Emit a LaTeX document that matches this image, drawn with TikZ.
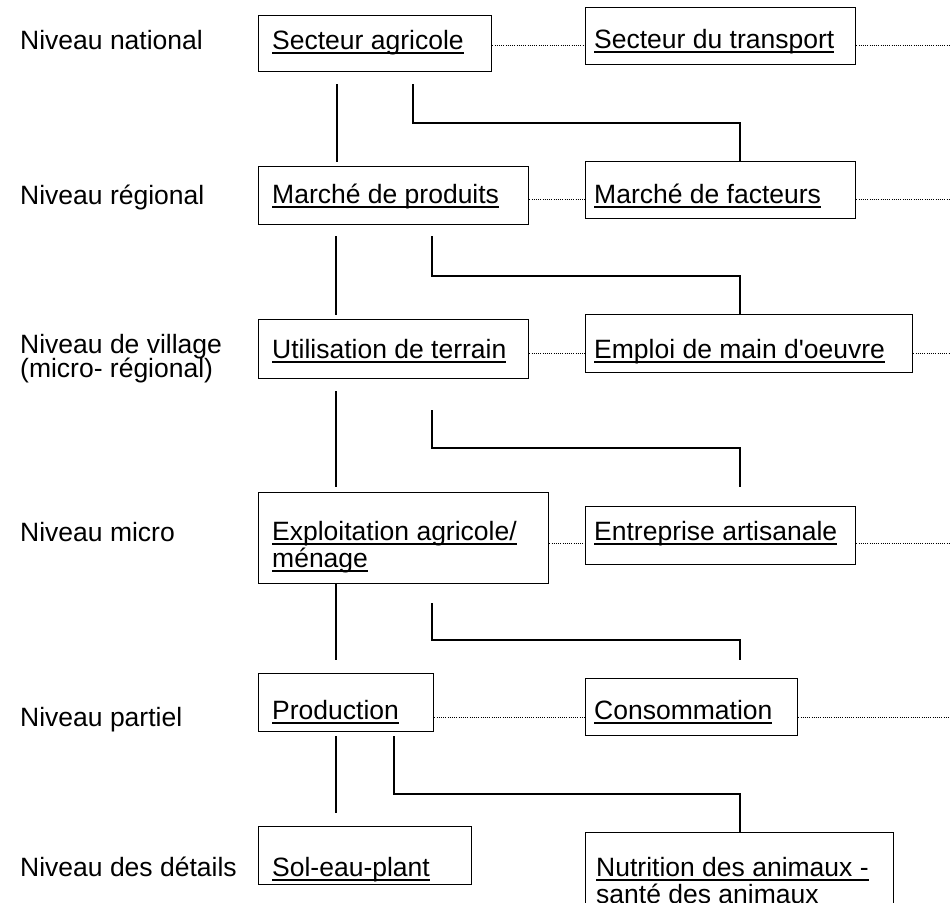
\documentclass[tikz,border=0pt]{standalone}
\usepackage{fontspec}
\setmainfont{Liberation Sans}[Ligatures=TeXOff]
\usetikzlibrary{calc}

% underlined text with a rule set at a fixed depth below the baseline
\newcommand\ulx[1]{\setbox0\hbox{#1}\rlap{\rule[-5pt]{\wd0}{1.8pt}}\box0}

\begin{document}
\begin{tikzpicture}[x=1pt,y=-1pt,
  box/.style={draw, line width=1.3pt, anchor=north west, inner sep=0pt},
  txt/.style={anchor=base west, inner sep=0pt, font=\fontsize{26.5}{28}\selectfont},
  link/.style={line width=1.3pt},
  dots/.style={line width=0.9pt, dash pattern=on 1pt off 1.2pt}]

\useasboundingbox (0,0) rectangle (950,902);
\fill[white] (0,0) rectangle (950,902);

% level labels
\node[txt] (l1)  at (20,49)  {Niveau national};
\node[txt] (l2)  at (20,204) {Niveau régional};
\node[txt] (l3a) at (20,353) {Niveau de village};
\node[txt] (l3b) at (20,377) {(micro- régional)};
\node[txt] (l4)  at (20,541) {Niveau micro};
\node[txt] (l5)  at (20,726) {Niveau partiel};
\node[txt] (l6)  at (20,876) {Niveau des détails};

% boxes
\node[box, minimum width=233pt, minimum height=56pt] (agri)   at (258,15)  {};
\node[box, minimum width=270pt, minimum height=57pt] (trans)  at (585,7)   {};
\node[box, minimum width=270pt, minimum height=58pt] (prod)   at (258,166) {};
\node[box, minimum width=270pt, minimum height=57pt] (fact)   at (585,161) {};
\node[box, minimum width=270pt, minimum height=59pt] (util)   at (258,319) {};
\node[box, minimum width=327pt, minimum height=58pt] (emploi) at (585,314) {};
\node[box, minimum width=290pt, minimum height=91pt] (exploi) at (258,492) {};
\node[box, minimum width=270pt, minimum height=58pt] (entr)   at (585,506) {};
\node[box, minimum width=175pt, minimum height=58pt] (produc) at (258,673) {};
\node[box, minimum width=212pt, minimum height=57pt] (conso)  at (585,678) {};
\node[box, minimum width=213pt, minimum height=58pt] (sol)    at (258,826) {};
\node[box, minimum width=308pt, minimum height=100pt] (nutri) at (585,832) {};

% box texts
\node[txt] (agriT)   at (272,49)  {\ulx{Secteur agricole}};
\node[txt] (transT)  at (594,48)  {\ulx{Secteur du transport}};
\node[txt] (prodT)   at (272,203) {\ulx{Marché de produits}};
\node[txt] (factT)   at (594,203) {\ulx{Marché de facteurs}};
\node[txt] (utilT)   at (272,358) {\ulx{Utilisation de terrain}};
\node[txt] (emploiT) at (594,358) {\ulx{Emploi de main d'oeuvre}};
\node[txt] (exploiT) at (272,540) {\ulx{Exploitation agricole/}};
\node[txt] (exploiU) at (272,567) {\ulx{ménage}};
\node[txt] (entrT)   at (594,540) {\ulx{Entreprise artisanale}};
\node[txt] (producT) at (272,719) {\ulx{Production}};
\node[txt] (consoT)  at (594,719) {\ulx{Consommation}};
\node[txt] (solT)    at (272,876) {\ulx{Sol-eau-plant}};
\node[txt] (nutriT)  at (596,876) {\ulx{Nutrition des animaux -}};
\node[txt] (nutriU)  at (596,903) {\ulx{santé des animaux}};

% right-hand edge of the dotted links
\coordinate (edge) at (950,0);

% dotted links along each level
\draw[dots] (agri.east |- 0,45)   -- (trans.west |- 0,45);
\draw[dots] (trans.east |- 0,45)  -- (edge |- 0,45);
\draw[dots] (prod.east |- 0,199)  -- (fact.west |- 0,199);
\draw[dots] (fact.east |- 0,199)  -- (edge |- 0,199);
\draw[dots] (util.east |- 0,353)  -- (emploi.west |- 0,353);
\draw[dots] (emploi.east |- 0,353) -- (edge |- 0,353);
\draw[dots] (exploi.east |- 0,543) -- (entr.west |- 0,543);
\draw[dots] (entr.east |- 0,543)  -- (edge |- 0,543);
\draw[dots] (produc.east |- 0,717) -- (conso.west |- 0,717);
\draw[dots] (conso.east |- 0,717) -- (edge |- 0,717);

% vertical links down the left column
\draw[link] ($(agri.south west)+(79,12)$)   -- ($(prod.north west)+(79,-4)$);
\draw[link] ($(prod.south west)+(78,11)$)   -- ($(util.north west)+(78,-4)$);
\draw[link] ($(util.south west)+(78,12)$)   -- ($(exploi.north west)+(78,-5)$);
\draw[link] ($(exploi.south west)+(78,0)$)  -- ($(produc.north west)+(78,-13)$);
\draw[link] ($(produc.south west)+(78,4)$)  -- ($(sol.north west)+(78,-13)$);

% branch links to the right column
\draw[link] ($(agri.south west)+(155,12)$) |- (740,123) -- (fact.north -| 740,0);
\draw[link] ($(prod.south west)+(174,11)$) |- (740,276) -- (emploi.north -| 740,0);
\draw[link] ($(util.south west)+(174,31)$) |- (740,448) -- ($(entr.north -| 740,0)+(0,-19)$);
\draw[link] ($(exploi.south west)+(174,19)$) |- (740,640) -- ($(conso.north -| 740,0)+(0,-18)$);
\draw[link] ($(produc.south west)+(136,4)$) |- (740,794) -- (nutri.north -| 740,0);

\end{tikzpicture}
\end{document}
